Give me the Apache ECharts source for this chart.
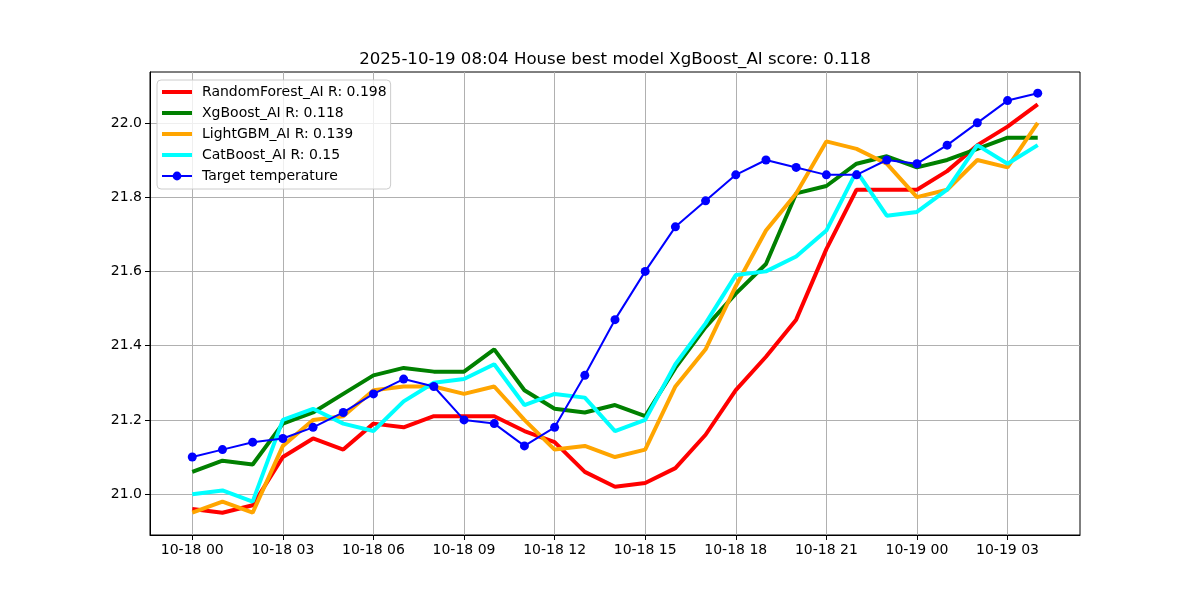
<!DOCTYPE html>
<html>
<head>
<meta charset="utf-8">
<script src="https://cdn.jsdelivr.net/npm/echarts@6/dist/echarts.min.js"></script>
<style>
  html, body { margin: 0; padding: 0; background: #fff; }
  #chart { width: 1200px; height: 600px; }
</style>
</head>
<body>
<div id="chart"></div>
<script>
// hourly timestamps, 10-18 00 .. 10-19 04
const times = [
  '10-18 00', '10-18 01', '10-18 02', '10-18 03', '10-18 04', '10-18 05', '10-18 06',
  '10-18 07', '10-18 08', '10-18 09', '10-18 10', '10-18 11', '10-18 12', '10-18 13',
  '10-18 14', '10-18 15', '10-18 16', '10-18 17', '10-18 18', '10-18 19', '10-18 20',
  '10-18 21', '10-18 22', '10-18 23', '10-19 00', '10-19 01', '10-19 02', '10-19 03',
  '10-19 04'
]
const xTicks = [0, 3, 6, 9, 12, 15, 18, 21, 24, 27]
const yTicks = [21.0, 21.2, 21.4, 21.6, 21.8, 22.0]

const randomForest = [20.96, 20.95, 20.97, 21.10, 21.15, 21.12, 21.19, 21.18, 21.21, 21.21,
  21.21, 21.17, 21.14, 21.06, 21.02, 21.03, 21.07, 21.16, 21.28, 21.37,
  21.47, 21.66, 21.82, 21.82, 21.82, 21.87, 21.94, 21.99, 22.05]
const xgBoost = [21.06, 21.09, 21.08, 21.19, 21.22, 21.27, 21.32, 21.34, 21.33, 21.33,
  21.39, 21.28, 21.23, 21.22, 21.24, 21.21, 21.34, 21.45, 21.54, 21.62,
  21.81, 21.83, 21.89, 21.91, 21.88, 21.90, 21.93, 21.96, 21.96]
const lightGBM = [20.95, 20.98, 20.95, 21.13, 21.20, 21.21, 21.28, 21.29, 21.29, 21.27,
  21.29, 21.20, 21.12, 21.13, 21.10, 21.12, 21.29, 21.39, 21.56, 21.71,
  21.81, 21.95, 21.93, 21.89, 21.80, 21.82, 21.90, 21.88, 22.00]
const catBoost = [21.00, 21.01, 20.98, 21.20, 21.23, 21.19, 21.17, 21.25, 21.30, 21.31,
  21.35, 21.24, 21.27, 21.26, 21.17, 21.20, 21.35, 21.46, 21.59, 21.60,
  21.64, 21.71, 21.87, 21.75, 21.76, 21.82, 21.94, 21.89, 21.94]
const target = [21.10, 21.12, 21.14, 21.15, 21.18, 21.22, 21.27, 21.31, 21.29, 21.20,
  21.19, 21.13, 21.18, 21.32, 21.47, 21.60, 21.72, 21.79, 21.86, 21.90,
  21.88, 21.86, 21.86, 21.90, 21.89, 21.94, 22.00, 22.06, 22.08]

const font = 'DejaVu Sans'
const pts = arr => arr.map((v, i) => [i, v])
// plain thick line for the legend, no marker
const barIcon = 'path://M0,0H30V4H0Z'

const myEcharts = echarts.init(document.getElementById('chart'))
const modelLine = (name, color, data) => ({
  name,
  type: 'line',
  data: pts(data),
  symbol: 'none',
  lineStyle: { color, width: 4 },
  itemStyle: { color, borderWidth: 0 },
  animation: false
})

const option = {
  backgroundColor: '#fff',
  textStyle: { fontFamily: font },
  title: {
    text: '2025-10-19 08:04 House best model XgBoost_AI score: 0.118',
    left: 610,
    textAlign: 'center',
    top: 46,
    textStyle: { fontFamily: font, fontSize: 16.6, fontWeight: 'normal', color: '#000' }
  },
  grid: {
    left: 150,
    right: 120,
    top: 72,
    bottom: 65,
    show: true,
    borderColor: '#000',
    borderWidth: 1,
    backgroundColor: 'transparent'
  },
  legend: {
    orient: 'vertical',
    left: 157,
    top: 80,
    padding: [5, 4, 6, 4],
    itemWidth: 30,
    itemHeight: 11,
    itemGap: 7,
    backgroundColor: 'rgba(255,255,255,0.8)',
    borderColor: '#cccccc',
    borderWidth: 1,
    borderRadius: 4,
    textStyle: { fontFamily: font, fontSize: 14, color: '#000', padding: [0, 0, 0, 5] },
    data: [
      { name: 'RandomForest_AI R: 0.198', icon: barIcon },
      { name: 'XgBoost_AI R: 0.118', icon: barIcon },
      { name: 'LightGBM_AI R: 0.139', icon: barIcon },
      { name: 'CatBoost_AI R: 0.15', icon: barIcon },
      { name: 'Target temperature' }
    ]
  },
  xAxis: {
    type: 'value',
    min: -1.4,
    max: 29.4,
    axisLine: { show: true, onZero: false, lineStyle: { color: '#000' } },
    axisTick: { show: true, customValues: xTicks, length: 5, lineStyle: { color: '#000' } },
    axisLabel: {
      customValues: xTicks,
      formatter: v => times[v],
      fontFamily: font,
      fontSize: 14,
      color: '#000',
      margin: 8
    },
    splitLine: { show: true, lineStyle: { color: '#b0b0b0', width: 1 } }
  },
  yAxis: {
    type: 'value',
    min: 20.89,
    max: 22.137,
    axisLine: { show: true, onZero: false, lineStyle: { color: '#000' } },
    axisTick: { show: true, customValues: yTicks, length: 5, lineStyle: { color: '#000' } },
    axisLabel: {
      customValues: yTicks,
      formatter: v => v.toFixed(1),
      fontFamily: font,
      fontSize: 14,
      color: '#000',
      margin: 8
    },
    splitLine: { show: true, lineStyle: { color: '#b0b0b0', width: 1 } }
  },
  series: [
    modelLine('RandomForest_AI R: 0.198', '#ff0000', randomForest),
    modelLine('XgBoost_AI R: 0.118', '#008000', xgBoost),
    modelLine('LightGBM_AI R: 0.139', '#ffa500', lightGBM),
    modelLine('CatBoost_AI R: 0.15', '#00ffff', catBoost),
    {
      name: 'Target temperature',
      type: 'line',
      data: pts(target),
      symbol: 'circle',
      symbolSize: 9,
      showSymbol: true,
      lineStyle: { color: '#0000ff', width: 2 },
      itemStyle: { color: '#0000ff' },
      animation: false
    }
  ]
}
myEcharts.setOption(option)
</script>
</body>
</html>
